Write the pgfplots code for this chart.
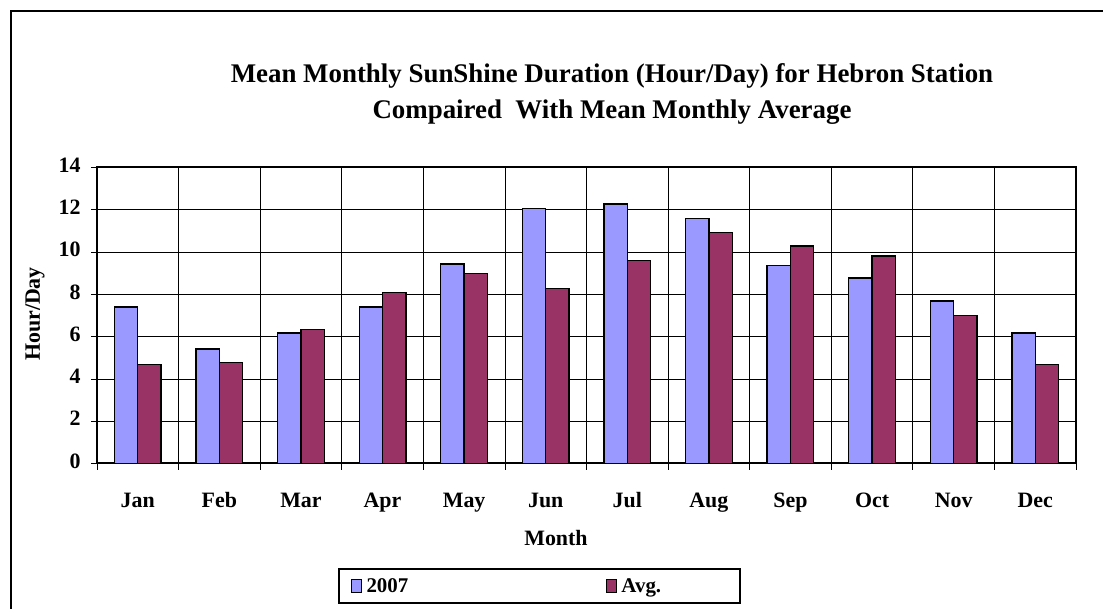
\documentclass[border=0pt]{standalone}
\usepackage{fontspec}
\setmainfont{Liberation Serif}
\usepackage{pgfplots}
\pgfplotsset{compat=1.18}
\definecolor{cblue}{HTML}{9999FF}
\definecolor{cplum}{HTML}{993366}
\pgfplotstableread{
idx y2007 avg
0  7.40 4.67
1  5.42 4.79
2  6.17 6.35
3  7.40 8.08
4  9.43 8.99
5  12.06 8.29
6  12.27 9.60
7  11.59 10.91
8  9.38 10.28
9  8.78 9.81
10 7.68 7.00
11 6.17 4.67
}\datatable
\begin{document}
\begin{tikzpicture}
\useasboundingbox (0bp,0bp) rectangle (1103bp,609bp);
\draw[line width=2bp] (11bp,-5bp) -- (11bp,598bp) -- (1110bp,598bp);
\begin{axis}[
  at={(97bp,145.5bp)}, anchor=south west,
  scale only axis, width=979bp, height=296bp,
  xmin=-0.5, xmax=11.5, ymin=0, ymax=14,
  ytick={0,2,...,14},
  xtick={0,...,11},
  xticklabels={Jan,Feb,Mar,Apr,May,Jun,Jul,Aug,Sep,Oct,Nov,Dec},
  minor xtick={-0.5,0.5,...,11.5},
  xtick pos=bottom, ytick pos=left,
  xminorgrids=true, ymajorgrids=true,
  grid style={black, line width=0.8bp},
  minor grid style={black, line width=0.8bp},
  tick align=outside,
  major tick length=6bp, minor tick length=6bp,
  major x tick style={draw=none},
  tick style={black, line width=0.8bp},
  axis line style={line width=2bp},
  /pgf/number format/assume math mode=true,
  typeset ticklabels with strut,
  ticklabel style={font=\fontsize{22}{24}\selectfont\bfseries},
  yticklabel style={xshift=-7bp},
  xticklabel style={yshift=-18bp},
  ybar=0pt, bar width=0.286,
  legend style={at={(axis description cs:0.452,-0.414)}, anchor=center,
    draw=black, line width=2bp, legend columns=2,
    font=\fontsize{21}{23}\selectfont\bfseries,
    inner xsep=12bp, inner ysep=7bp},
  legend image code/.code={\draw[#1, line width=1bp] (0bp,-6.5bp) rectangle (10bp,6.5bp);},
]
\addplot[fill=cblue, draw=black, line width=1.3bp] table[x=idx, y=y2007] {\datatable};
\addlegendentry{\hspace{3bp}\makebox[237bp][l]{2007}}
\addplot[fill=cplum, draw=black, line width=1.3bp] table[x=idx, y=avg] {\datatable};
\addlegendentry{\hspace{3bp}\makebox[105bp][l]{Avg.}}
\end{axis}
\node[font=\fontsize{27}{29}\selectfont\bfseries, align=center] at (612bp,515bp) {Mean Monthly SunShine Duration (Hour/Day) for Hebron Station\\[7bp]Compaired\ \ With Mean Monthly Average};
\node[font=\fontsize{22}{24}\selectfont\bfseries, rotate=90] at (35bp,295bp) {Hour/Day};
\node[font=\fontsize{22}{24}\selectfont\bfseries] at (556bp,71bp) {Month};
\end{tikzpicture}
\end{document}
